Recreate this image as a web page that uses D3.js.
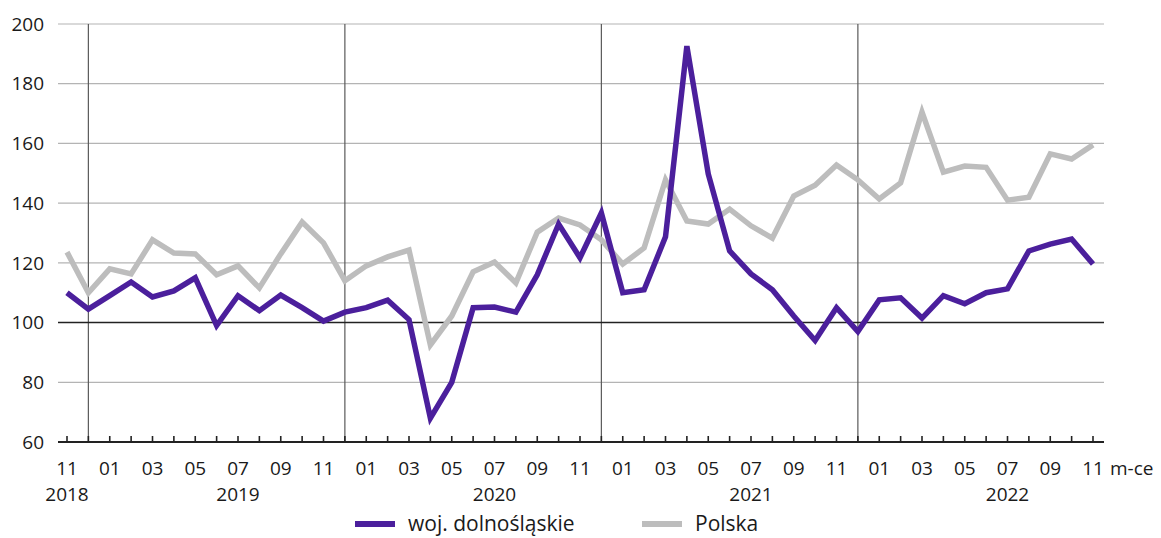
<!DOCTYPE html>
<html>
<head>
<meta charset="utf-8">
<script src="https://cdn.jsdelivr.net/npm/d3@7"></script>
<style>
  body { margin: 0; background: #fff; }
  svg { display: block; font-family: "Open Sans", sans-serif; }
</style>
</head>
<body>
<svg id="chart" width="1161" height="538"></svg>
<script>
'use strict';

// month keys, 2018-11 .. 2022-11
var months = [
  '2018-11', '2018-12',
  '2019-01', '2019-02', '2019-03', '2019-04', '2019-05', '2019-06',
  '2019-07', '2019-08', '2019-09', '2019-10', '2019-11', '2019-12',
  '2020-01', '2020-02', '2020-03', '2020-04', '2020-05', '2020-06',
  '2020-07', '2020-08', '2020-09', '2020-10', '2020-11', '2020-12',
  '2021-01', '2021-02', '2021-03', '2021-04', '2021-05', '2021-06',
  '2021-07', '2021-08', '2021-09', '2021-10', '2021-11', '2021-12',
  '2022-01', '2022-02', '2022-03', '2022-04', '2022-05', '2022-06',
  '2022-07', '2022-08', '2022-09', '2022-10', '2022-11'
];

var dolnoslaskie = [
  110, 104.5,
  109, 113.6, 108.6, 110.6, 115, 99, 109, 104, 109.2, 105, 100.5, 103.5,
  105, 107.5, 101, 68, 80, 105, 105.2, 103.5, 116, 133, 121.7, 136.7,
  110, 111, 128.7, 192.6, 149.8, 124, 116.3, 111, 102.2, 94, 105, 97,
  107.6, 108.3, 101.5, 109, 106.3, 110, 111.3, 124, 126.3, 128, 119.6
];

var polska = [
  123.6, 110,
  118, 116.3, 127.7, 123.3, 123, 116, 119, 111.6, 123, 133.7, 126.7, 114,
  119, 122, 124.3, 92.5, 102.2, 117, 120.3, 113.3, 130.3, 135, 132.7, 127.7,
  119.6, 125, 147.8, 134, 133, 138, 132.4, 128.3, 142.4, 146, 152.8, 147.8,
  141.4, 146.8, 170.5, 150.4, 152.4, 152, 141, 142, 156.5, 154.8, 159.5
];

var yTicks = [60, 80, 100, 120, 140, 160, 180, 200];
var yearLabels = [
  { year: '2018', at: '2018-11' },
  { year: '2019', at: '2019-07' },
  { year: '2020', at: '2020-07' },
  { year: '2021', at: '2021-07' },
  { year: '2022', at: '2022-07' }
];
var seriesNames = ['woj. dolnośląskie', 'Polska'];

var colors = { region: '#4b1f9c', country: '#bdbdbd' };
var plot = { left: 58, right: 1104, top: 24, bottom: 442 };

var svg = d3.select('#chart');

var x = d3.scalePoint().domain(months).range([67, 1093]);
var y = d3.scaleLinear().domain([60, 200]).range([plot.bottom, plot.top]);

// horizontal grid
svg.append('g').selectAll('line')
  .data(yTicks.filter(function(d) { return d !== 60 && d !== 100; }))
  .enter().append('line')
  .attr('x1', plot.left).attr('x2', plot.right)
  .attr('y1', function(d) { return y(d); })
  .attr('y2', function(d) { return y(d); })
  .attr('stroke', '#b4b4b4')
  .attr('stroke-width', 1.2);

// year separators at december
svg.append('g').selectAll('line')
  .data(months.filter(function(m) { return m.slice(5) === '12'; }))
  .enter().append('line')
  .attr('x1', function(d) { return x(d); })
  .attr('x2', function(d) { return x(d); })
  .attr('y1', plot.top).attr('y2', plot.bottom)
  .attr('stroke', '#5a5a5a')
  .attr('stroke-width', 1.2);

// 100 reference line
svg.append('line')
  .attr('x1', plot.left).attr('x2', plot.right)
  .attr('y1', y(100)).attr('y2', y(100))
  .attr('stroke', '#222')
  .attr('stroke-width', 1.6);

// y labels
svg.append('g').selectAll('text')
  .data(yTicks)
  .enter().append('text')
  .attr('x', 44)
  .attr('y', function(d) { return y(d); })
  .attr('dy', '0.35em')
  .attr('text-anchor', 'end')
  .attr('font-size', 19)
  .attr('fill', '#1a1a1a')
  .text(function(d) { return d; });

// x axis line and month ticks (pointing up)
svg.append('line')
  .attr('x1', plot.left).attr('x2', plot.right)
  .attr('y1', plot.bottom).attr('y2', plot.bottom)
  .attr('stroke', '#222')
  .attr('stroke-width', 2);

svg.append('g').selectAll('line')
  .data(months)
  .enter().append('line')
  .attr('x1', function(d) { return x(d); })
  .attr('x2', function(d) { return x(d); })
  .attr('y1', plot.bottom - 6).attr('y2', plot.bottom)
  .attr('stroke', '#222')
  .attr('stroke-width', 1.6);

// month labels (odd months)
svg.append('g').selectAll('text')
  .data(months.filter(function(m) { return +m.slice(5) % 2 === 1; }))
  .enter().append('text')
  .attr('x', function(d) { return x(d); })
  .attr('y', 475)
  .attr('text-anchor', 'middle')
  .attr('font-size', 19)
  .attr('fill', '#1a1a1a')
  .text(function(d) { return d.slice(5); });

svg.append('text')
  .attr('x', 1110).attr('y', 475)
  .attr('font-size', 19)
  .attr('fill', '#1a1a1a')
  .text('m-ce');

svg.append('g').selectAll('text')
  .data(yearLabels)
  .enter().append('text')
  .attr('x', function(d) { return x(d.at); })
  .attr('y', 501)
  .attr('text-anchor', 'middle')
  .attr('font-size', 19)
  .attr('fill', '#1a1a1a')
  .text(function(d) { return d.year; });

// series
var line = d3.line()
  .x(function(d, i) { return x(months[i]); })
  .y(function(d) { return y(d); });

svg.append('path')
  .datum(polska)
  .attr('d', line)
  .attr('fill', 'none')
  .attr('stroke', colors.country)
  .attr('stroke-width', 5.5)
  .attr('stroke-linejoin', 'miter');

svg.append('path')
  .datum(dolnoslaskie)
  .attr('d', line)
  .attr('fill', 'none')
  .attr('stroke', colors.region)
  .attr('stroke-width', 5.5)
  .attr('stroke-linejoin', 'miter');

// legend
var legend = [
  { name: seriesNames[0], color: colors.region, x: 355 },
  { name: seriesNames[1], color: colors.country, x: 642 }
];
var lg = svg.append('g').selectAll('g')
  .data(legend)
  .enter().append('g')
  .attr('transform', function(d) { return 'translate(' + d.x + ',524)'; });

lg.append('line')
  .attr('x1', 0).attr('x2', 40)
  .attr('stroke', function(d) { return d.color; })
  .attr('stroke-width', 6);

lg.append('text')
  .attr('x', 53)
  .attr('dy', '0.35em')
  .attr('font-size', 21)
  .attr('fill', '#1a1a1a')
  .text(function(d) { return d.name; });
</script>
</body>
</html>
